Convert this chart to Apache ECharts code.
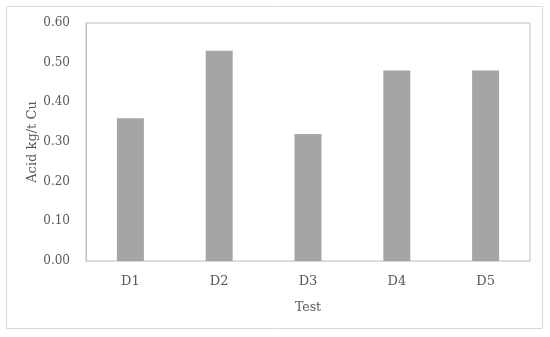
<!DOCTYPE html>
<html>
<head>
<meta charset="utf-8">
<script src="https://cdn.jsdelivr.net/npm/echarts@6/dist/echarts.min.js"></script>
<style>
  html, body { margin: 0; padding: 0; background: #fff; }
  #chart { width: 550px; height: 337px; }
</style>
</head>
<body>
<div id="chart"></div>
<script>
const categories = ['D1', 'D2', 'D3', 'D4', 'D5']
const acidValues = [0.36, 0.53, 0.32, 0.48, 0.48]
const yTicks = { min: 0, max: 0.6, interval: 0.1 }

const textColor = '#595959'
const fontFamily = '"DejaVu Serif", "Liberation Serif", serif'

const chart = echarts.init(document.getElementById('chart'))
const option = {
  animation: false,
  grid: {
    left: 86,
    right: 20,
    top: 23,
    bottom: 76,
    show: true,
    borderColor: '#bfbfbf',
    borderWidth: 1
  },
  graphic: [
    {
      type: 'rect',
      shape: { x: 6.5, y: 6.5, width: 536, height: 322 },
      style: { fill: 'none', stroke: '#d9d9d9', lineWidth: 1 },
      silent: true
    }
  ],
  xAxis: {
    type: 'category',
    data: categories,
    name: 'Test',
    nameLocation: 'middle',
    nameGap: 40,
    nameTextStyle: { color: textColor, fontFamily: fontFamily, fontSize: 12.5 },
    axisLine: { show: true, lineStyle: { color: '#d9d9d9' } },
    axisTick: { show: false },
    axisLabel: { color: textColor, fontFamily: fontFamily, fontSize: 13, margin: 14 }
  },
  yAxis: {
    type: 'value',
    min: yTicks.min,
    max: yTicks.max,
    interval: yTicks.interval,
    name: 'Acid kg/t Cu',
    nameLocation: 'middle',
    nameGap: 47,
    nameMoveOverlap: false,
    nameTextStyle: { color: textColor, fontFamily: fontFamily, fontSize: 13 },
    axisLine: { show: true, lineStyle: { color: '#bfbfbf' } },
    axisTick: { show: false },
    splitLine: { show: false },
    axisLabel: {
      color: textColor,
      fontFamily: fontFamily,
      fontSize: 12,
      margin: 16,
      formatter: v => v.toFixed(2)
    }
  },
  series: [
    {
      type: 'bar',
      data: acidValues,
      barWidth: 27,
      itemStyle: { color: '#a5a5a5' }
    }
  ]
}
chart.setOption(option)
</script>
</body>
</html>
